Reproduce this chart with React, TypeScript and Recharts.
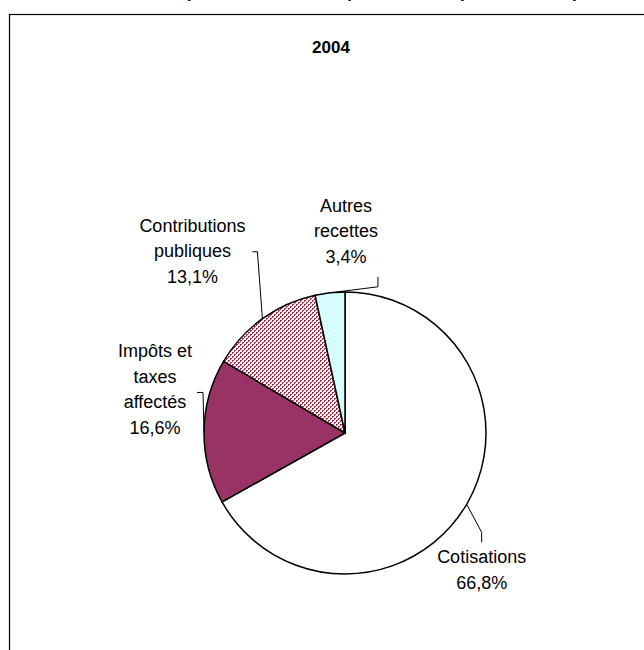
import { PieChart, Pie, Cell } from 'recharts';

const categories = ['Cotisations', 'Impôts et taxes affectés', 'Contributions publiques', 'Autres recettes'];
const shares = [66.8, 16.6, 13.1, 3.4];
const labelLines = [
  ['Cotisations'],
  ['Impôts et', 'taxes', 'affectés'],
  ['Contributions', 'publiques'],
  ['Autres', 'recettes'],
];
const year = '2004';

const data = categories.map((name, i) => ({ name, value: shares[i], lines: labelLines[i] }));

const FILLS = ['#ffffff', '#993366', 'url(#hatchContrib)', 'url(#dotsAutres)'];

// label placement relative to the point on the arc (Excel put them by hand)
const LABEL_LAYOUT = [
  { elbow: [15, 28], end: [15, 38], text: [15, 59] },
  { elbow: [-1, -39], end: [-7, -39], text: [-49, -74] },
  { elbow: [-5, -67], end: [-10, -67], text: [-70, -87] },
  { elbow: [48, -6], end: [48, -16], text: [16, -81] },
];

const RADIAN = Math.PI / 180;
const FONT = '"Liberation Sans", Arial, sans-serif';

const renderLabel = (props: any) => {
  const { cx, cy, midAngle, outerRadius, index, value } = props;
  const x0 = cx + outerRadius * Math.cos(-midAngle * RADIAN);
  const y0 = cy + outerRadius * Math.sin(-midAngle * RADIAN);
  const lay = LABEL_LAYOUT[index];
  const lines = [...data[index].lines, `${String(value).replace('.', ',')}%`];
  return (
    <g key={`lbl-${index}`}>
      <polyline
        points={`${x0},${y0} ${x0 + lay.elbow[0]},${y0 + lay.elbow[1]} ${x0 + lay.end[0]},${y0 + lay.end[1]}`}
        fill="none"
        stroke="#000"
        strokeWidth={1}
      />
      <text x={x0 + lay.text[0]} y={y0 + lay.text[1]} textAnchor="middle" fontFamily={FONT} fontSize={18} fill="#000">
        {lines.map((l, k) => (
          <tspan key={k} x={x0 + lay.text[0]} dy={k === 0 ? 0 : 25.5}>
            {l}
          </tspan>
        ))}
      </text>
    </g>
  );
};

export default function App() {
  return (
    <div style={{ position: 'absolute', left: 0, top: 0, width: 644, height: 650, background: '#fff' }}>
      <svg width={644} height={650} style={{ position: 'absolute', left: 0, top: 0 }}>
        <defs>
          <pattern id="hatchContrib" width={4} height={4} patternUnits="userSpaceOnUse">
            <rect width={4} height={4} fill="#fff4dc" />
            <rect x={0} y={0} width={2} height={2} fill="#993366" />
            <rect x={2} y={2} width={2} height={2} fill="#993366" />
            <rect x={1} y={1} width={1} height={1} fill="#fff4dc" />
            <rect x={3} y={3} width={1} height={1} fill="#fff4dc" />
          </pattern>
          <pattern id="dotsAutres" width={4} height={4} patternUnits="userSpaceOnUse">
            <rect width={4} height={4} fill="#ccffff" />
            <rect x={0} y={0} width={1} height={1} fill="#ffffff" />
            <rect x={2} y={2} width={1} height={1} fill="#ffffff" />
          </pattern>
        </defs>
        <rect x={9.5} y={14.5} width={700} height={700} fill="none" stroke="#000" strokeWidth={1.2} />
        <text y={-2} fontFamily={FONT} fontWeight="bold" fontSize={17} fill="#000">
          <tspan x={185}>(</tspan>
          <tspan x={348}>)</tspan>
          <tspan x={460}>p</tspan>
          <tspan x={572}>p</tspan>
        </text>
        <text x={331} y={53} textAnchor="middle" fontFamily={FONT} fontWeight="bold" fontSize={17} fill="#000">
          {year}
        </text>
      </svg>
      <div style={{ position: 'absolute', left: 0, top: 0 }}>
        <PieChart width={644} height={650} margin={{ top: 0, right: 0, bottom: 0, left: 0 }}>
          <Pie
            data={data}
            dataKey="value"
            nameKey="name"
            cx={345}
            cy={433}
            outerRadius={141}
            startAngle={90}
            endAngle={-270}
            stroke="#000"
            strokeWidth={1.5}
            label={renderLabel}
            labelLine={false}
            isAnimationActive={false}
          >
            {data.map((d, i) => (
              <Cell key={d.name} fill={FILLS[i]} />
            ))}
          </Pie>
        </PieChart>
      </div>
    </div>
  );
}
